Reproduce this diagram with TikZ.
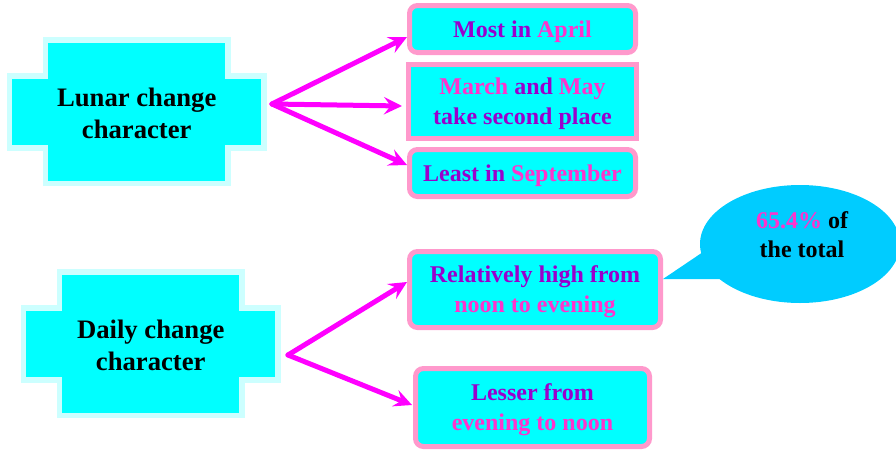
\documentclass[tikz,border=0pt]{standalone}
\usepackage{fontspec}
\setmainfont{Liberation Serif}
\usetikzlibrary{arrows.meta,calc}

\definecolor{lightcyan}{RGB}{204,255,255}
\definecolor{cyanfill}{RGB}{0,255,255}
\definecolor{pinkline}{RGB}{255,153,204}
\definecolor{pinktext}{RGB}{255,51,204}
\definecolor{purpletext}{RGB}{153,0,204}
\definecolor{calloutblue}{RGB}{0,204,255}
\definecolor{branchmagenta}{RGB}{255,0,255}

\tikzset{every picture/.style={line width=0.75pt}}
\tikzset{
  crossbox/.style={draw=lightcyan, fill=cyanfill, line width=4.125pt, line join=miter},
  crosstext/.style={align=center, font=\fontsize{20}{24}\selectfont\bfseries, inner sep=0pt},
  leafbox/.style={draw=pinkline, fill=cyanfill, line width=3.75pt, rounded corners=6pt,
    align=center, text=purpletext, font=\fontsize{18}{22.5}\selectfont\bfseries,
    inner sep=0pt, text depth=0pt},
  branch/.style={draw=branchmagenta, line width=3.75pt, line cap=round,
    -{Stealth[length=13.5pt,width=13pt,inset=5pt]}},
}
\newcommand{\pk}[1]{\textcolor{pinktext}{#1}}

\begin{document}
\begin{tikzpicture}[x=0.75pt,y=0.75pt,yscale=-1,xscale=1]
	\clip (0,0) rectangle (896,450);

	%Shape: Cross
	\draw [crossbox] (45.5,40) -- (228,40) -- (228,76) -- (264,76) -- (264,148) -- (228,148) -- (228,183.5) -- (45.5,183.5) -- (45.5,148) -- (9.5,148) -- (9.5,76) -- (45.5,76) -- cycle ;
	%Shape: Cross
	\draw [crossbox] (59.5,272) -- (242,272) -- (242,308) -- (278,308) -- (278,380) -- (242,380) -- (242,415.5) -- (59.5,415.5) -- (59.5,380) -- (23.5,380) -- (23.5,308) -- (59.5,308) -- cycle ;

	% Text Node
	\node [crosstext] (lunar) at (136.75,113.5) {Lunar change\\character};
	% Text Node
	\node [crosstext] (daily) at (150.75,345.5) {Daily change\\character};

	% Boxes
	\node [leafbox, minimum width=169.5pt, minimum height=35.25pt] (april) at (522.5,29) {Most in \pk{April}};
	\node [leafbox, rounded corners=0pt, minimum width=171pt, minimum height=55.5pt] (marchmay) at (522.5,101.5) {\pk{March} and \pk{May}\\take second place};
	\node [leafbox, minimum width=169.5pt, minimum height=35.25pt] (september) at (522.5,173) {Least in \pk{September}};
	\node [leafbox, minimum width=188.25pt, minimum height=57pt] (noonevening) at (535,289.5) {Relatively high from\\\pk{noon to evening}};
	\node [leafbox, minimum width=175.5pt, minimum height=58.5pt] (eveningnoon) at (532.5,407.5) {Lesser from\\\pk{evening to noon}};

	%Shape: Callout
	\fill [calloutblue] (800,244) ellipse [x radius=100, y radius=59] ;
	\coordinate (tip) at (663,279);
	\fill [calloutblue] (706,250) -- (tip) -- (724,279) -- cycle ;
	% Text Node
	\node [align=center, font=\fontsize{18}{21.75}\selectfont\bfseries, inner sep=0pt] (share) at (802,235) {\pk{65.4\%} of\\the total};

	%Straight Lines
	\coordinate (forkA) at (272,104);
	\coordinate (forkB) at (288,355);
	\draw [branch] (forkA) -- ($(april.west)+(0,8)$) ;
	\draw [branch] (forkA) -- ($(marchmay.west)+(-4,4.5)$) ;
	\draw [branch] (forkA) -- ($(september.west)+(0,-8)$) ;
	\draw [branch] (forkB) -- ($(noonevening.west)+(0,-7.5)$) ;
	\draw [branch] (forkB) -- ($(eveningnoon.west)+(-1,-2.5)$) ;

\end{tikzpicture}
\end{document}
